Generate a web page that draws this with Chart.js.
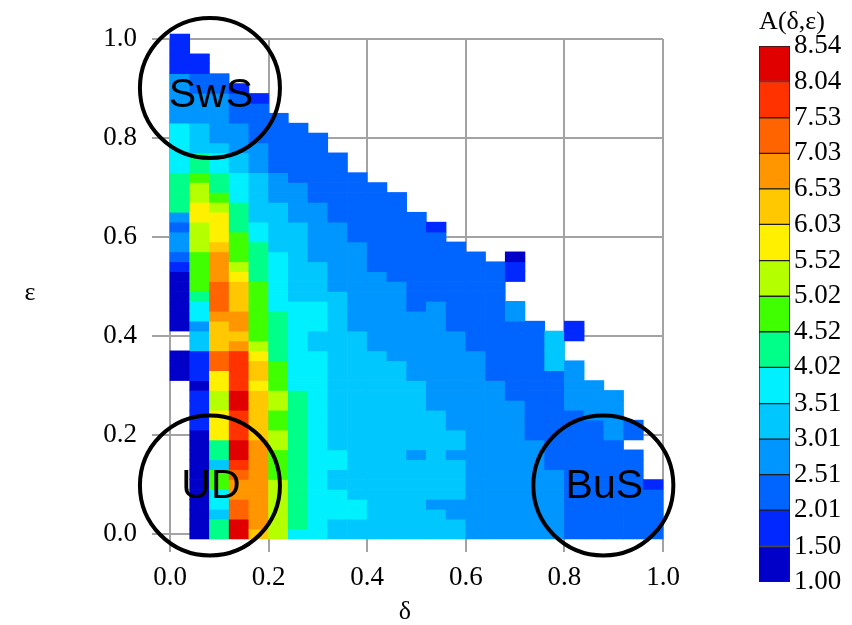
<!DOCTYPE html>
<html>
<head>
<meta charset="utf-8">
<script src="https://cdn.jsdelivr.net/npm/chart.js@4.4.1/dist/chart.umd.min.js"></script>
<style>
  html, body { margin: 0; padding: 0; background: #fff; }
  #wrap { position: relative; width: 852px; height: 625px; overflow: hidden; }
  #main { position: absolute; left: 0; top: 0; }
  #scale { position: absolute; left: 740px; top: 0; }
</style>
</head>
<body>
<div id="wrap">
  <canvas id="main" width="740" height="625"></canvas>
  <canvas id="scale" width="112" height="625"></canvas>
</div>
<script>
// δ column centres (each column is 0.04 wide)
const deltaCenters = [0.02, 0.06, 0.10, 0.14, 0.18, 0.22, 0.26, 0.30, 0.34, 0.38,
                      0.42, 0.46, 0.50, 0.54, 0.58, 0.62, 0.66, 0.70, 0.74, 0.78,
                      0.82, 0.86, 0.90, 0.94, 0.98];
// ε row centres (each row is 0.02 tall)
const epsRows = [0.00, 0.02, 0.04, 0.06, 0.08, 0.10, 0.12, 0.14, 0.16, 0.18,
                 0.20, 0.22, 0.24, 0.26, 0.28, 0.30, 0.32, 0.34, 0.36, 0.38,
                 0.40, 0.42, 0.44, 0.46, 0.48, 0.50, 0.52, 0.54, 0.56, 0.58,
                 0.60, 0.62, 0.64, 0.66, 0.68, 0.70, 0.72, 0.74, 0.76, 0.78,
                 0.80, 0.82, 0.84, 0.86, 0.88, 0.90, 0.92, 0.94, 0.96, 0.98, 1.00];

// A(δ,ε) per δ column, listed from ε = 0 upward (null = no value)
const A_d00 = [null,null,null,null,null,null,null,null,null,null,
               null,null,null,null,null,null,1.3,1.3,1.3,null,
               null,1.3,1.3,1.3,1.3,1.3,1.3,1.8,2.3,2.8,
               2.8,2.3,2.8,4.3,4.3,4.3,4.3,3.8,3.8,3.8,
               3.8,3.8,2.8,2.8,2.8,2.8,2.8,1.8,1.8,1.8,1.8];
const A_d01 = [1.3,1.3,1.3,1.3,1.3,1.3,1.3,1.3,1.3,1.3,
               1.3,1.8,1.8,1.8,1.8,1.3,1.8,1.8,1.8,3.3,
               3.3,2.8,3.8,3.8,4.3,4.8,4.8,4.8,4.8,5.3,
               5.3,5.3,5.8,5.8,5.3,5.3,4.8,4.3,4.3,3.3,
               3.3,3.3,2.8,2.8,2.8,2.3,2.3,1.8,1.8];
const A_d02 = [4.3,4.3,3.3,3.8,3.8,4.8,4.8,3.3,4.3,4.3,
               5.8,5.8,5.8,5.3,5.3,5.8,5.8,7.3,7.3,6.3,
               6.3,6.3,6.8,7.3,7.3,7.3,6.8,6.8,6.8,6.3,
               5.8,5.8,5.8,5.3,4.8,4.3,4.3,3.8,3.8,3.3,
               2.8,2.8,2.8,2.8,2.8,2.3,2.3];
const A_d03 = [8.3,8.3,7.3,7.3,6.8,6.8,7.3,7.8,8.3,8.3,
               7.8,7.8,7.8,8.3,8.3,7.8,7.8,7.8,7.8,6.8,
               6.3,6.8,6.8,6.3,6.3,6.3,5.8,5.3,4.8,4.8,
               4.8,4.3,4.3,4.3,3.8,3.8,3.8,3.3,3.3,2.8,
               2.8,2.8,2.3,2.3,2.3,1.8];
const A_d04 = [6.3,6.8,6.8,6.8,6.8,6.8,6.8,6.8,6.8,6.8,
               6.3,6.3,6.3,6.3,6.3,5.8,6.3,6.3,5.8,5.3,
               4.8,4.8,4.8,4.8,4.8,4.8,4.3,4.3,4.3,4.3,
               3.8,3.8,3.3,3.3,3.3,3.3,3.3,2.8,2.8,2.8,
               2.3,2.3,2.3,2.3,1.8];
const A_d05 = [5.3,5.3,5.3,5.3,5.3,5.3,4.8,4.8,4.8,5.3,
               5.3,4.8,4.8,5.3,5.3,4.8,4.8,4.8,4.3,4.3,
               4.3,4.3,4.3,3.8,3.8,3.8,3.8,3.8,3.8,3.3,
               3.3,3.3,3.3,3.3,2.8,2.8,2.8,2.3,2.3,2.3,
               2.3,2.3,2.3];
const A_d06 = [3.8,4.3,4.3,4.3,4.3,4.3,4.3,4.3,4.3,4.3,
               4.3,4.3,4.3,4.3,4.3,3.8,3.8,3.8,3.8,3.8,
               3.8,3.8,3.8,3.8,3.3,3.3,3.3,3.3,3.3,3.3,
               3.3,3.3,2.8,2.8,2.8,2.8,2.3,2.3,2.3,2.3,
               2.3,2.3];
const A_d07 = [3.8,3.8,3.8,3.8,3.8,3.8,3.8,3.8,3.8,3.8,
               3.8,3.8,3.8,3.8,3.8,3.8,3.8,3.8,3.8,3.3,
               3.3,3.8,3.8,3.8,3.3,3.3,3.3,3.3,2.8,2.8,
               2.8,2.8,2.8,2.8,2.3,2.3,2.3,2.3,2.3,2.3,
               2.3];
const A_d08 = [3.3,3.3,3.8,3.8,3.8,3.3,3.3,3.8,3.8,3.3,
               3.3,3.3,3.3,3.3,3.3,3.3,3.3,3.3,3.3,3.3,
               3.3,3.3,3.3,3.3,3.3,2.8,2.8,2.8,2.8,2.8,
               2.8,2.8,2.3,2.3,2.3,2.3,2.3,2.3,2.3];
const A_d09 = [3.3,3.3,3.8,3.8,3.3,3.3,3.3,3.3,3.3,3.3,
               3.3,3.3,3.3,3.3,3.3,3.3,3.3,3.3,3.3,3.3,
               3.3,2.8,2.8,2.8,2.8,2.8,2.8,2.8,2.8,2.8,
               2.3,2.3,2.3,2.3,2.3,2.3,2.3];
const A_d10 = [3.3,3.3,3.3,3.3,3.3,3.3,3.3,3.3,3.3,3.3,
               3.3,3.3,3.3,3.3,3.3,3.3,3.3,3.3,3.3,2.8,
               2.8,2.8,2.8,2.8,2.8,2.8,2.8,2.3,2.3,2.3,
               2.3,2.3,2.3,2.3,2.3,2.3];
const A_d11 = [3.3,3.3,3.3,3.3,3.3,3.3,3.3,3.3,3.3,3.3,
               3.3,3.3,3.3,3.3,3.3,3.3,3.3,3.3,2.8,2.8,
               2.8,2.8,2.8,2.8,2.8,2.8,2.3,2.3,2.3,2.3,
               2.3,2.3,2.3,2.3,2.3];
const A_d12 = [3.3,3.3,3.3,3.3,3.3,3.3,3.3,3.3,2.8,3.3,
               3.3,3.3,3.3,3.3,3.3,3.3,2.8,2.8,2.8,2.8,
               2.8,2.8,2.8,2.3,2.3,2.3,2.3,2.3,2.3,2.3,
               2.3,2.3,2.3];
const A_d13 = [3.3,3.3,3.3,2.8,3.3,3.3,3.3,3.3,3.3,3.3,
               3.3,3.3,3.3,2.8,2.8,2.8,2.8,2.8,2.8,2.8,
               2.8,2.8,2.8,2.8,2.3,2.3,2.3,2.3,2.3,2.3,
               2.3,1.8];
const A_d14 = [3.3,3.3,2.8,2.8,3.3,3.3,3.3,3.3,2.8,3.3,
               3.3,2.8,2.8,2.8,2.8,2.8,2.8,2.8,2.8,2.8,
               2.8,2.3,2.3,2.3,2.3,2.3,2.3,2.3,2.3,2.3];
const A_d15 = [2.8,2.8,2.8,2.8,2.8,2.8,2.8,2.8,2.8,2.8,
               2.8,2.8,2.8,2.8,2.8,2.8,2.8,2.8,2.8,2.3,
               2.3,2.3,2.3,2.3,2.3,2.3,2.3,2.3,2.3];
const A_d16 = [2.8,2.8,2.8,2.8,2.8,2.8,2.8,2.8,2.8,2.8,
               2.8,2.8,2.8,2.8,2.8,2.8,2.3,2.3,2.3,2.3,
               2.3,2.3,2.3,2.3,2.3,2.3,2.3,2.3];
const A_d17 = [2.8,2.8,2.8,2.8,2.8,2.8,2.8,2.8,2.8,2.8,
               2.8,2.8,2.8,2.8,2.3,2.3,2.3,2.3,2.3,2.3,
               2.3,2.3,2.8,2.8,null,null,1.8,1.8,1.3];
const A_d18 = [2.8,2.8,2.8,2.8,2.8,2.8,2.8,2.8,2.8,2.8,
               2.3,2.3,2.3,2.3,2.3,2.3,2.3,2.3,2.3,2.3,
               2.3,2.3];
const A_d19 = [2.8,2.8,2.8,2.8,2.8,2.8,2.8,2.3,2.3,2.3,
               2.3,2.3,2.3,2.3,2.3,2.3,2.3,3.3,3.3,3.3,
               3.3];
const A_d20 = [2.3,2.3,2.3,2.3,2.3,2.3,2.3,2.3,2.3,2.3,
               2.3,2.3,2.3,2.8,2.8,2.8,2.8,2.8,null,null,
               1.8,1.8];
const A_d21 = [2.3,2.3,2.3,2.3,2.3,2.3,2.3,2.3,2.3,2.3,
               2.3,2.3,2.8,2.8,2.8,2.8];
const A_d22 = [2.3,2.3,2.3,2.3,2.3,2.3,2.3,2.3,2.3,2.3,
               2.8,2.8,2.8,2.8,2.8];
const A_d23 = [2.3,2.3,2.3,2.3,2.3,2.3,2.3,2.3,2.3,null,
               2.3,2.3];
const A_d24 = [2.3,2.3,2.3,2.3,2.3,1.8];

const columns = [A_d00, A_d01, A_d02, A_d03, A_d04, A_d05, A_d06, A_d07, A_d08, A_d09,
                 A_d10, A_d11, A_d12, A_d13, A_d14, A_d15, A_d16, A_d17, A_d18, A_d19,
                 A_d20, A_d21, A_d22, A_d23, A_d24];

// colour scale boundaries and the colour of each band
const levels = [1.00, 1.50, 2.01, 2.51, 3.01, 3.51, 4.02, 4.52, 5.02, 5.52, 6.03, 6.53, 7.03, 7.53, 8.04, 8.54];
const bandColors = ['#0000c8', '#0028ff', '#0064ff', '#0096ff', '#00c8ff', '#00f0ff', '#00ff88', '#40ff00',
                    '#b4ff00', '#fff000', '#ffc800', '#ff9600', '#ff6400', '#ff3200', '#e00000'];

// circled regions
const markerNames = ['SwS', 'UD', 'BuS'];
const markerDelta = [0.081, 0.081, 0.879];
const markerEps = [0.901, 0.098, 0.098];
const markerTextEps = [0.862, 0.073, 0.073];
const markerRadius = 0.142;

function colorFor(v) {
  for (let k = 0; k < bandColors.length; k++) {
    if (v < levels[k + 1]) return bandColors[k];
  }
  return bandColors[bandColors.length - 1];
}

const halfRow = 0.01;
const cells = [];
columns.forEach((col, i) => {
  col.forEach((v, j) => {
    if (v === null) return;
    cells.push({ x: deltaCenters[i], y: [epsRows[j] - halfRow, epsRows[j] + halfRow], v: v });
  });
});

const serif = '"Liberation Serif", "Times New Roman", serif';
const tickFont = { family: serif, size: 27 };
const gridGray = '#a3a3a3';

Chart.defaults.color = '#000';
Chart.defaults.font.family = serif;

const regionMarks = {
  id: 'regionMarks',
  afterDatasetsDraw(chart) {
    const { ctx } = chart;
    const x = chart.scales.x, y = chart.scales.y;
    const r = x.getPixelForValue(markerRadius) - x.getPixelForValue(0);
    ctx.save();
    ctx.lineWidth = 4;
    ctx.strokeStyle = '#000';
    ctx.fillStyle = '#000';
    ctx.font = '41px "Liberation Sans", Arial, sans-serif';
    ctx.textAlign = 'center';
    ctx.textBaseline = 'alphabetic';
    markerNames.forEach((name, i) => {
      const cx = x.getPixelForValue(markerDelta[i]);
      ctx.beginPath();
      ctx.arc(cx, y.getPixelForValue(markerEps[i]), r, 0, Math.PI * 2);
      ctx.stroke();
      ctx.fillText(name, cx + 1, y.getPixelForValue(markerTextEps[i]));
    });
    ctx.restore();
  }
};

const axisTitles = {
  id: 'axisTitles',
  afterDraw(chart) {
    const { ctx } = chart;
    ctx.save();
    ctx.fillStyle = '#000';
    ctx.font = '26px ' + serif;
    ctx.textAlign = 'center';
    ctx.textBaseline = 'alphabetic';
    ctx.fillText('δ', 405, 619);
    ctx.fillText('ε', 30, 300);
    ctx.restore();
  }
};

new Chart(document.getElementById('main'), {
  type: 'bar',
  data: {
    datasets: [{
      data: cells,
      backgroundColor: c => colorFor(c.raw ? c.raw.v : 1),
      borderWidth: 0,
      barPercentage: 1,
      categoryPercentage: 1,
      clip: false
    }]
  },
  options: {
    responsive: false,
    animation: false,
    events: [],
    layout: { padding: { left: 0, right: 77, top: 39, bottom: 0 } },
    plugins: { legend: { display: false }, tooltip: { enabled: false } },
    scales: {
      x: {
        type: 'linear', min: 0, max: 1, offset: false,
        ticks: { stepSize: 0.2, font: tickFont, color: '#000', padding: 10, maxRotation: 0,
                 callback: v => v.toFixed(1) },
        grid: { color: gridGray, lineWidth: 2, tickLength: 18, offset: false },
        border: { color: gridGray, width: 2 },
        afterFit: s => { s.height = 91; }
      },
      y: {
        type: 'linear', min: 0, max: 1,
        ticks: { stepSize: 0.2, font: tickFont, color: '#000', padding: 15,
                 callback: v => v.toFixed(1) },
        grid: { color: gridGray, lineWidth: 2, tickLength: 18 },
        border: { color: gridGray, width: 2 },
        afterFit: s => { s.width = 170; }
      }
    }
  },
  plugins: [regionMarks, axisTitles]
});

const scaleTitle = {
  id: 'scaleTitle',
  afterDraw(chart) {
    const { ctx } = chart;
    ctx.save();
    ctx.fillStyle = '#000';
    ctx.font = '26px ' + serif;
    ctx.textAlign = 'center';
    ctx.textBaseline = 'alphabetic';
    ctx.fillText('A(δ,ε)', 52, 29);
    ctx.restore();
  }
};

new Chart(document.getElementById('scale'), {
  type: 'bar',
  data: {
    labels: [''],
    datasets: bandColors.map((c, k) => ({
      data: [[levels[k], levels[k + 1]]],
      backgroundColor: c,
      borderColor: '#1e1e1e',
      borderWidth: 1,
      borderSkipped: false,
      barPercentage: 1,
      categoryPercentage: 1,
      grouped: false
    }))
  },
  options: {
    responsive: false,
    animation: false,
    events: [],
    layout: { padding: { left: 19, right: 0, top: 46, bottom: 43 } },
    plugins: { legend: { display: false }, tooltip: { enabled: false } },
    scales: {
      x: { display: false },
      y: {
        position: 'right', min: levels[0], max: levels[levels.length - 1],
        afterBuildTicks: s => { s.ticks = levels.map(v => ({ value: v })); },
        ticks: { font: tickFont, color: '#000', padding: 4, autoSkip: false,
                 callback: v => Number(v).toFixed(2) },
        grid: { display: false, drawTicks: false },
        border: { display: false },
        afterFit: s => { s.width = 62; }
      }
    }
  },
  plugins: [scaleTitle]
});
</script>
</body>
</html>
